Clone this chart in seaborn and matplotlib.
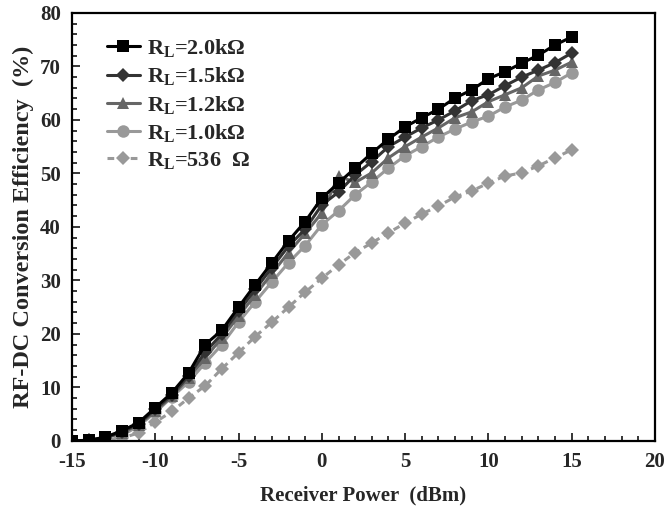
import numpy as np
import pandas as pd
import matplotlib
matplotlib.use("Agg")
import matplotlib.pyplot as plt
from matplotlib.ticker import MultipleLocator
import seaborn as sns

# data
power = list(range(-15, 16))
eff_20k = [0, 0.1, 0.7, 1.9, 3.4, 6.2, 9.0, 12.7, 18.0, 20.7, 25.0, 29.2, 33.3, 37.4, 41.0, 45.4,
           48.2, 51.0, 53.8, 56.4, 58.7, 60.4, 62.0, 64.1, 65.6, 67.7, 69.0, 70.6, 72.1, 74.0, 75.5]
eff_15k = [0, 0.1, 0.6, 1.7, 3.2, 5.9, 8.6, 12.2, 16.6, 20.0, 24.2, 28.3, 32.4, 36.4, 39.6, 44.1,
           46.5, 49.7, 52.2, 55.0, 56.8, 58.5, 60.0, 61.7, 63.6, 64.7, 66.4, 68.0, 69.3, 70.7, 72.5]
eff_12k = [0, 0.1, 0.5, 1.5, 3.0, 5.6, 8.3, 11.8, 15.5, 19.3, 23.3, 27.3, 31.3, 35.2, 38.8, 42.6,
           49.5, 48.3, 50.1, 52.9, 55.0, 56.8, 58.5, 60.4, 61.5, 63.4, 64.7, 66.0, 68.2, 69.3, 70.8]
eff_10k = [0, 0, -0.3, 1.0, 2.8, 5.3, 8.2, 11.0, 14.6, 18.0, 22.2, 26.0, 29.7, 33.3, 36.5, 40.4,
           43.0, 46.0, 48.4, 51.0, 53.3, 55.0, 56.8, 58.3, 59.6, 60.7, 62.4, 63.7, 65.6, 67.0, 68.8]
eff_536 = [0, 0, 0, 0.5, 1.5, 3.5, 5.5, 8.0, 10.3, 13.5, 16.5, 19.5, 22.2, 25.0, 27.8, 30.4,
           32.9, 35.2, 37.0, 38.9, 40.7, 42.4, 43.9, 45.6, 46.7, 48.2, 49.5, 50.1, 51.4, 52.9, 54.4]

labels = [r"R$_\mathrm{L}$=2.0k$\Omega$", r"R$_\mathrm{L}$=1.5k$\Omega$", r"R$_\mathrm{L}$=1.2k$\Omega$",
          r"R$_\mathrm{L}$=1.0k$\Omega$", r"R$_\mathrm{L}$=536  $\Omega$"]

sns.set_style("ticks")
plt.rcParams["font.family"] = ["Liberation Serif", "DejaVu Serif"]
plt.rcParams["font.weight"] = "bold"
plt.rcParams["axes.unicode_minus"] = False
plt.rcParams["mathtext.fontset"] = "custom"
plt.rcParams["mathtext.rm"] = "Liberation Serif:bold"
plt.rcParams["mathtext.it"] = "Liberation Serif:bold"
plt.rcParams["mathtext.bf"] = "Liberation Serif:bold"

df = pd.DataFrame({"power": power, "2.0k": eff_20k, "1.5k": eff_15k, "1.2k": eff_12k,
                   "1.0k": eff_10k, "536": eff_536})

fig = plt.figure(figsize=(6.67, 5.15), dpi=100)
ax = fig.add_axes([0.108, 0.144, 0.874, 0.831])

styles = {
    "536": dict(color="#999999", marker="D", markersize=7.5, linestyle=(0, (2.2, 1.6)), linewidth=2.2),
    "1.0k": dict(color="#999999", marker="o", markersize=9, linestyle="-", linewidth=2.2),
    "1.2k": dict(color="#666666", marker="^", markersize=9, linestyle="-", linewidth=2.2),
    "1.5k": dict(color="#333333", marker="D", markersize=7.5, linestyle="-", linewidth=2.2),
    "2.0k": dict(color="#000000", marker="s", markersize=9, linestyle="-", linewidth=2.2),
}
handles = {}
for key in ["536", "1.0k", "1.2k", "1.5k", "2.0k"]:
    st = styles[key]
    sns.lineplot(data=df, x="power", y=key, ax=ax, color=st["color"], marker=st["marker"],
                 markersize=st["markersize"], markeredgewidth=0, linewidth=st["linewidth"])
    line = ax.lines[-1]
    line.set_linestyle(st["linestyle"])
    handles[key] = line

order = ["2.0k", "1.5k", "1.2k", "1.0k", "536"]
leg = ax.legend([handles[k] for k in order], labels, loc="upper left",
                bbox_to_anchor=(0.025, 0.99), frameon=False, handlelength=1.5,
                handletextpad=0.3, labelspacing=0.28, prop={"size": 16, "weight": "bold"})

ax.set_xlim(-15, 20)
ax.set_ylim(0, 80)
ax.xaxis.set_major_locator(MultipleLocator(5))
ax.xaxis.set_minor_locator(MultipleLocator(1))
ax.yaxis.set_major_locator(MultipleLocator(10))
ax.yaxis.set_minor_locator(MultipleLocator(2))
ax.tick_params(axis="both", which="both", direction="in", top=False, right=False,
               labelsize=15, width=1.3)
ax.tick_params(axis="both", which="major", length=6, pad=8)
ax.tick_params(axis="both", which="minor", length=3.5)
for lab in ax.get_xticklabels() + ax.get_yticklabels():
    lab.set_fontweight("bold")
for sp in ax.spines.values():
    sp.set_linewidth(1.6)
    sp.set_color("black")

ax.set_xlabel("Receiver Power  (dBm)", fontsize=15, fontweight="bold", labelpad=10)
ax.set_ylabel("RF-DC Conversion Efficiency  (%)", fontsize=17.5, fontweight="bold", labelpad=4)

fig.savefig("out.png", dpi=100)
